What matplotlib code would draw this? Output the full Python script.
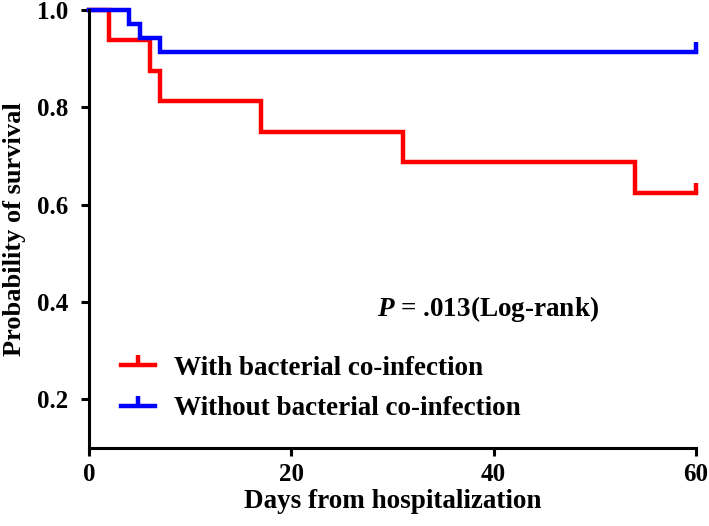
import matplotlib
matplotlib.use('Agg')
import matplotlib.pyplot as plt
from matplotlib.lines import Line2D

# Kaplan-Meier steps
with_days = [0, 2, 6, 7, 17, 31, 54, 60]
with_surv = [1.0, 0.9375, 0.875, 0.8125, 0.75, 0.6875, 0.625, 0.625]
without_days = [0, 4, 5, 7, 60]
without_surv = [1.0, 0.971, 0.943, 0.914, 0.914]
censor_day = 60

labels = ['With bacterial co-infection', 'Without bacterial co-infection']
colors = ['#ff0000', '#0000ff']
x_ticks = [0, 20, 40, 60]
y_ticks = [0.2, 0.4, 0.6, 0.8, 1.0]

plt.rcParams['font.family'] = ['Liberation Serif', 'DejaVu Serif']
plt.rcParams['font.weight'] = 'bold'
plt.rcParams['mathtext.fontset'] = 'custom'
plt.rcParams['mathtext.it'] = 'Liberation Serif:italic:bold'
plt.rcParams['mathtext.rm'] = 'Liberation Serif:bold'

fig = plt.figure(figsize=(7.09, 5.26), dpi=100)
ax = fig.add_axes([0.1255, 0.148, 0.856, 0.833])

lw = 3.2
for days, surv, c in [(with_days, with_surv, colors[0]), (without_days, without_surv, colors[1])]:
    ax.step(days, surv, where='post', color=c, lw=lw, clip_on=False, solid_joinstyle='miter')
    ax.plot([censor_day], [surv[-1]], marker=2, color=c, markersize=7, mew=lw, clip_on=False)

ax.set_xlim(0, 60)
ax.set_ylim(0.1, 1.0)
ax.set_xticks(x_ticks)
ax.set_yticks(y_ticks)
ax.set_yticklabels(['%.1f' % v for v in y_ticks])
for s in ['top', 'right']:
    ax.spines[s].set_visible(False)
for s in ['left', 'bottom']:
    ax.spines[s].set_linewidth(2.2)
ax.tick_params(width=2.2, length=6, labelsize=18)
ax.tick_params(axis='y', pad=9)
ax.tick_params(axis='x', pad=5)

ax.set_xlabel('Days from hospitalization', fontsize=19.5, fontweight='bold', labelpad=2)
ax.set_ylabel('Probability of survival', fontsize=19, fontweight='bold')
ax.yaxis.set_label_coords(-0.104, 0.5)

ax.text(28.5, 0.385, '$P$ = .013(Log-rank)', fontsize=19.5, fontweight='bold', va='center')

handles = [Line2D([], [], color=c, lw=lw, marker=2, markersize=7, mew=lw) for c in colors]
ax.legend(handles, labels, loc='center left', bbox_to_anchor=(0.053, 0.136), frameon=False,
          handlelength=1.25, handletextpad=0.7, labelspacing=0.58,
          borderpad=0, borderaxespad=0,
          prop={'weight': 'bold', 'size': 19.5})

fig.savefig('out.png', dpi=100)
